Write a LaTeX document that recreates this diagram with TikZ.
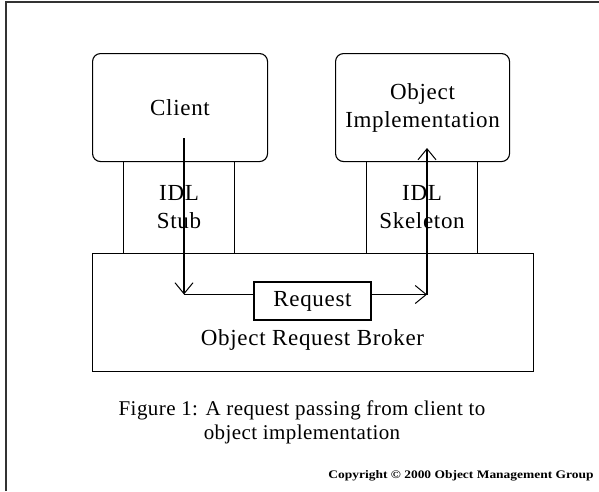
\documentclass[tikz,border=0pt]{standalone}
\usepackage{fontspec}
\setmainfont{Liberation Serif}
\usetikzlibrary{arrows.meta}
\begin{document}
\begin{tikzpicture}[x=1pt,y=-1pt, line width=1.1pt,
  lbl/.style={font=\fontsize{23}{28}\selectfont\addfontfeature{LetterSpace=3}, align=center},
  box/.style={draw, inner sep=0pt, anchor=north west},
  barb/.style={-{Straight Barb[length=11pt,width=18pt,line width=1pt]}}]
\useasboundingbox (0,0) rectangle (599,491);
\draw[line width=2pt, black!80] (6,491) -- (6,2) -- (599,2);
% IDL stub / skeleton boxes
\node[box, lbl, minimum width=111pt, minimum height=92pt] (stub) at (123,161) {IDL\\Stub};
\node[box, lbl, minimum width=111pt, minimum height=92pt] (skel) at (366,161) {IDL\\Skeleton};
% client and object implementation
\node[box, lbl, fill=white, rounded corners=8pt, minimum width=175pt, minimum height=108pt] (client) at (92,53) {Client};
\node[box, lbl, fill=white, rounded corners=8pt, minimum width=174pt, minimum height=108pt] (obj) at (335,53) {Object\\Implementation};
% broker
\node[box, minimum width=441pt, minimum height=118pt] (orb) at (92,253) {};
\node[lbl] (orblbl) at (312.5,340) {Object Request Broker};
\node[draw, lbl, inner sep=0pt, minimum width=117pt, minimum height=38pt] (req) at (312.5,301) {Request};
% connectors
\coordinate (cs) at (184,138);
\coordinate (c1) at (184,294.5);
\coordinate (c2) at (427,294.5);
\coordinate (ot) at (427,148);
\draw[barb] (cs) -- (c1);
\draw (c1) -- (c1 -| req.west);
\draw[barb] (c2 -| req.east) -- (c2);
\draw[barb] (c2) -- (ot);
% caption
\node[lbl, font=\fontsize{21}{24}\selectfont\addfontfeature{LetterSpace=2}] (cap) at (302,422) {Figure 1: A request passing from client to\\object implementation};
\node[inner sep=0pt] (copy) at (461,476) {\resizebox{265pt}{8pt}{\bfseries Copyright \textcopyright{} 2000 Object Management Group}};
\end{tikzpicture}
\end{document}
